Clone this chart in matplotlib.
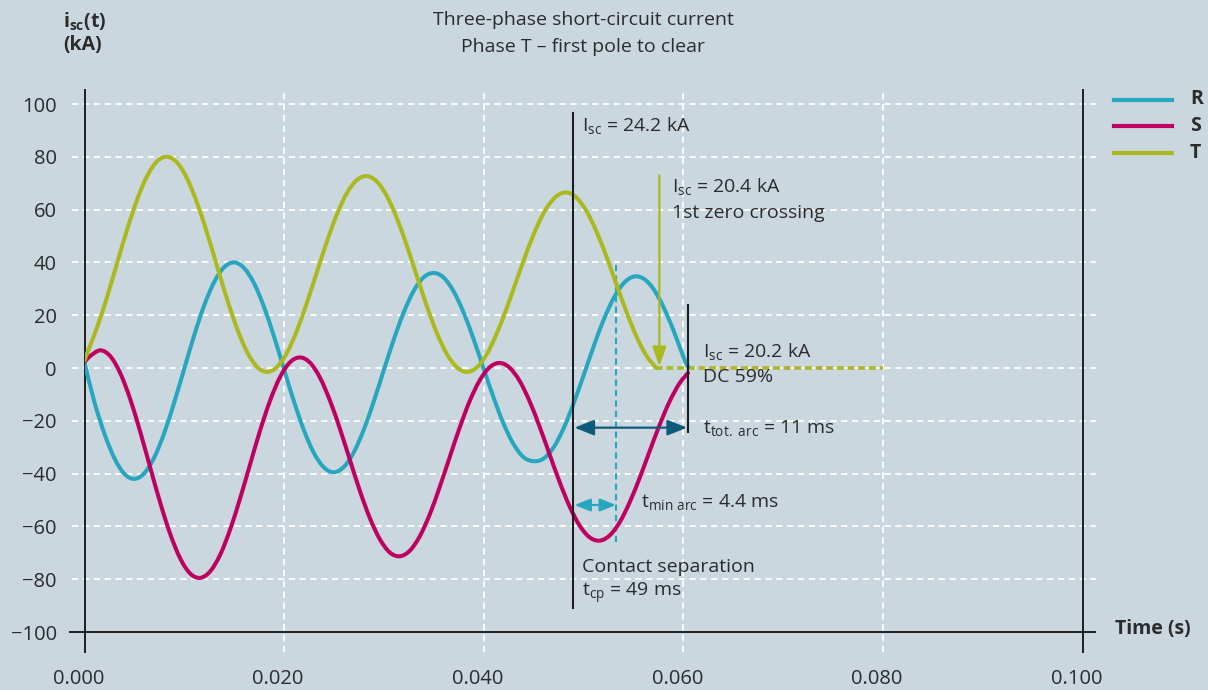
import numpy as np
import matplotlib.pyplot as plt
from matplotlib.lines import Line2D
from matplotlib.path import Path
from matplotlib.patches import PathPatch
from matplotlib.transforms import ScaledTranslation

plt.rcParams['font.family'] = ['Open Sans', 'DejaVu Sans']
plt.rcParams['mathtext.fontset'] = 'custom'
plt.rcParams['mathtext.rm'] = 'Open Sans'
plt.rcParams['mathtext.it'] = 'Open Sans:italic'
plt.rcParams['mathtext.bf'] = 'Open Sans:bold'

# --- data (time in ms, current in kA) ---
t_T = [0, 0.3, 1.3, 2.3, 3.3, 4.3, 5.3, 6.3, 7.3, 8.3,
       9.3, 10.3, 11.3, 12.3, 13.3, 14.3, 15.3, 16.3, 17.3, 18.3,
       19.3, 20.3, 21.3, 22.3, 23.3, 24.3, 25.3, 26.3, 27.3, 28.3,
       29.3, 30.3, 31.3, 32.3, 33.3, 34.3, 35.3, 36.3, 37.3, 38.3,
       39.3, 40.3, 41.3, 42.3, 43.3, 44.3, 45.3, 46.3, 47.3, 48.3,
       49.3, 50.3, 51.3, 52.3, 53.3, 54.3, 55.3, 56.3, 57.3]
i_T = [2.8, 6.0, 15.8, 27.4, 40.2, 52.8, 64.1, 72.9, 78.4, 80.0,
       77.7, 71.6, 62.3, 50.9, 38.3, 25.9, 14.8, 6.0, 0.4, -1.5,
       0.4, 5.9, 14.3, 24.9, 36.5, 48.0, 58.3, 66.3, 71.2, 72.7,
       70.6, 65.1, 56.7, 46.3, 34.8, 23.5, 13.3, 5.3, 0.3, -1.5,
       0.2, 5.2, 13.0, 22.6, 33.3, 43.8, 53.2, 60.6, 65.1, 66.5,
       64.5, 59.4, 51.7, 42.2, 31.7, 21.3, 12.0, 4.7, 0.0]

t_R = [0, 1, 2, 3, 4, 5, 6, 7, 8, 9,
       10, 11, 12, 13, 14, 15, 16, 17, 18, 19,
       20, 21, 22, 23, 24, 25, 26, 27, 28, 29,
       30, 31, 32, 33, 34, 35, 36, 37, 38, 39,
       40, 41, 42, 43, 44, 45, 46, 47, 48, 49,
       50, 51, 52, 53, 54, 55, 56, 57, 58, 59,
       60, 60.47]
i_R = [2.0, -13.0, -24.9, -34.2, -40.1, -42.0, -39.8, -33.8, -24.5, -12.9,
       -0.2, 12.5, 23.8, 32.6, 38.2, 40.0, 37.8, 32.0, 23.0, 11.8,
       -0.6, -12.8, -23.7, -32.3, -37.7, -39.5, -37.4, -31.8, -23.2, -12.5,
       -0.7, 10.9, 21.2, 29.3, 34.4, 36.0, 34.2, 28.9, 20.9, 10.8,
       -0.3, -11.3, -21.2, -28.9, -33.8, -35.3, -34.3, -30.1, -22.9, -13.5,
       -2.9, 8.0, 18.1, 26.3, 32.0, 34.6, 33.9, 30.0, 23.2, 14.4,
       4.3, 0.5]

t_S = [0, 0.6, 1.6, 2.6, 3.6, 4.6, 5.6, 6.6, 7.6, 8.6, 9.6, 10.6,
       11.6, 12.6, 13.6, 14.6, 15.6, 16.6, 17.6, 18.6, 19.6, 20.6,
       21.6, 22.6, 23.6, 24.6, 25.6, 26.6, 27.6, 28.6, 29.6, 30.6,
       31.6, 32.6, 33.6, 34.6, 35.6, 36.6, 37.6, 38.6, 39.6, 40.6,
       41.6, 42.6, 43.6, 44.6, 45.6, 46.6, 47.6, 48.6, 49.6, 50.6,
       51.6, 52.6, 53.6, 54.6, 55.6, 56.6, 57.6, 58.6, 59.6, 60.47]
i_S = [2.3, 4.6, 6.7, 4.4, -2.1, -12.0, -24.4, -37.9, -51.2, -63.0, -72.2, -77.9,
       -79.5, -77.0, -70.7, -61.1, -49.3, -36.4, -23.6, -12.3, -3.4, 2.2,
       4.0, 2.0, -3.7, -12.4, -23.1, -34.9, -46.6, -56.9, -64.9, -69.9,
       -71.3, -69.2, -63.7, -55.4, -45.0, -33.7, -22.5, -12.5, -4.7, 0.3,
       1.9, 0.1, -4.9, -12.6, -22.2, -32.7, -43.1, -52.4, -59.6, -64.1,
       -65.4, -63.5, -58.6, -51.1, -41.9, -31.8, -21.8, -12.9, -5.9, -1.9]

# T after clearing (dotted zero line)
t_T_zero = [57.3, 80.0]
i_T_zero = [0, 0]

x_ticks = [0.0, 0.02, 0.04, 0.06, 0.08, 0.1]
x_labels = ['0.000', '0.020', '0.040', '0.060', '0.080', '0.100']
y_ticks = [-100, -80, -60, -40, -20, 0, 20, 40, 60, 80, 100]
y_labels = ['\u2212100', '\u221280', '\u221260', '\u221240', '\u221220', '0',
            '20', '40', '60', '80', '100']

series = ['R', 'S', 'T']

# --- style ---
BG = '#cad7df'
TXT = '#2b2b2b'
AXC = '#1e1e1e'
C_R = '#27a6bf'
C_S = '#be0060'
C_T = '#abb91e'
C_DARK = '#0d5a7b'
GRID = 'white'


def smooth_line(ax, x, y, color, lw, zorder):
    # draw the sampled points as a Catmull-Rom style bezier so peaks look round
    pts = np.column_stack([x, y])
    n = len(pts)
    verts = [pts[0]]
    codes = [Path.MOVETO]
    for i in range(n - 1):
        p0 = pts[max(i - 1, 0)]
        p1 = pts[i]
        p2 = pts[i + 1]
        p3 = pts[min(i + 2, n - 1)]
        verts += [p1 + (p2 - p0) / 6.0, p2 - (p3 - p1) / 6.0, p2]
        codes += [Path.CURVE4] * 3
    patch = PathPatch(Path(verts, codes), fill=False, edgecolor=color, lw=lw,
                      capstyle='round', joinstyle='round', zorder=zorder)
    ax.add_patch(patch)


W, H = 1208, 690
fig = plt.figure(figsize=(W / 100, H / 100), dpi=100)
fig.patch.set_facecolor(BG)
ax = fig.add_axes([84.5 / W, 58 / H, 998 / W, 528 / H])
ax.set_facecolor('none')
ax.set_xlim(0, 0.1)
ax.set_ylim(-100, 100)
for s in ax.spines.values():
    s.set_visible(False)

ax.set_xticks(x_ticks)
ax.set_xticklabels(x_labels)
ax.set_yticks(y_ticks)
ax.set_yticklabels(y_labels)
ax.tick_params(length=0, colors=TXT, labelsize=14.5)
ax.tick_params(axis='x', pad=27)
ax.tick_params(axis='y', pad=20)
# x labels sit a little left of their ticks in the original
shift = ScaledTranslation(-6 / 100, 0, fig.dpi_scale_trans)
for lbl in ax.get_xticklabels():
    lbl.set_transform(lbl.get_transform() + shift)

# grid
dash = (0, (3.5, 2.5))
for y in y_ticks[1:]:
    ax.plot([-0.0013, 0.1014], [y, y], color=GRID, lw=1.3, ls=dash,
            clip_on=False, zorder=1)
for x in x_ticks[1:-1]:
    ax.plot([x, x], [-107.6, 105.3], color=GRID, lw=1.3, ls=dash,
            clip_on=False, zorder=1)

# axis frame lines
ax.plot([-0.00145, 0.1013], [-100, -100], color=AXC, lw=1.4, clip_on=False, zorder=2)
for x in [0.0, 0.1]:
    ax.plot([x, x], [-107.6, 105.3], color=AXC, lw=1.4, clip_on=False, zorder=2)

# curves
ms = lambda v: np.asarray(v) / 1000.0
ax.plot(ms(t_T_zero), i_T_zero, color=C_T, lw=2.6, ls=(0, (1.85, 1.1)),
        zorder=3, solid_capstyle='butt')
smooth_line(ax, ms(t_R), i_R, C_R, 2.9, 4)
smooth_line(ax, ms(t_S), i_S, C_S, 2.9, 4)
smooth_line(ax, ms(t_T), i_T, C_T, 2.9, 4)

# annotations
t_cp = 0.0489
t_end = 0.06047
t_min = 0.05325
t_zero = 0.0576
ax.plot([t_cp, t_cp], [-91, 96.6], color=AXC, lw=1.5, zorder=5)
ax.plot([t_end, t_end], [-24.2, 23.9], color=AXC, lw=1.5, zorder=5)
ax.plot([t_min, t_min], [-66, 40], color=C_R, lw=1.5, ls=(0, (3, 2)), zorder=3)

ax.annotate('', xy=(t_zero, 0.6), xytext=(t_zero, 73),
            arrowprops=dict(arrowstyle='-|>,head_length=0.85,head_width=0.3',
                            color=C_T, lw=1.6, shrinkA=0, shrinkB=0,
                            mutation_scale=14), zorder=5)
ax.annotate('', xy=(t_cp + 0.0002, -22.6), xytext=(t_end - 0.0001, -22.6),
            arrowprops=dict(arrowstyle='<|-|>,head_length=0.85,head_width=0.34',
                            color=C_DARK, lw=1.6, shrinkA=0, shrinkB=0,
                            mutation_scale=14), zorder=5)
ax.annotate('', xy=(t_cp + 0.0002, -51.9), xytext=(t_min, -51.9),
            arrowprops=dict(arrowstyle='<|-|>,head_length=0.8,head_width=0.32',
                            color=C_R, lw=1.6, shrinkA=0, shrinkB=0,
                            mutation_scale=12), zorder=5)

fs = 14
ax.text(0.0498, 92, r'I$_{\mathrm{sc}}$ = 24.2 kA', color=TXT, fontsize=fs, va='center')
ax.text(0.05887, 68.6, r'I$_{\mathrm{sc}}$ = 20.4 kA', color=TXT, fontsize=fs, va='center')
ax.text(0.05887, 58.7, '1st zero crossing', color=TXT, fontsize=fs, va='center')
ax.text(0.06197, 6.1, r'I$_{\mathrm{sc}}$ = 20.2 kA', color=TXT, fontsize=fs, va='center')
ax.text(0.06197, -3.4, 'DC 59%', color=TXT, fontsize=fs, va='center')
ax.text(0.06197, -22.7, r't$_{\mathrm{tot.\ arc}}$ = 11 ms', color=TXT, fontsize=fs, va='center')
ax.text(0.05576, -50.8, r't$_{\mathrm{min\ arc}}$ = 4.4 ms', color=TXT, fontsize=fs, va='center')
ax.text(0.0498, -75.4, 'Contact separation', color=TXT, fontsize=fs, va='center')
ax.text(0.0498, -85.2, r't$_{\mathrm{cp}}$ = 49 ms', color=TXT, fontsize=fs, va='center')

# titles and axis labels
fig.text(583 / W, 1 - 20 / H, 'Three-phase short-circuit current', color=TXT,
         fontsize=14, ha='center', va='center')
fig.text(583 / W, 1 - 47 / H, 'Phase T \u2013 first pole to clear', color=TXT,
         fontsize=14, ha='center', va='center')
fig.text(63 / W, 1 - 21 / H, r'i$_{\mathbf{sc}}$(t)', color=TXT, fontsize=14,
         fontweight='bold', ha='left', va='center')
fig.text(63 / W, 1 - 45 / H, '(kA)', color=TXT, fontsize=14,
         fontweight='bold', ha='left', va='center')
fig.text(1115 / W, 1 - 629 / H, 'Time (s)', color=TXT, fontsize=14,
         fontweight='bold', ha='left', va='center')

# legend
leg_y = [99.5, 126, 152.7]
for name, col, py in zip(series, [C_R, C_S, C_T], leg_y):
    fig.add_artist(Line2D([1114 / W, 1172 / W], [1 - py / H] * 2, color=col,
                          lw=3.0, transform=fig.transFigure))
    fig.text(1190 / W, 1 - py / H, name, color=TXT, fontsize=14,
             fontweight='bold', ha='left', va='center')

fig.savefig('out.png', dpi=100, facecolor=BG)
